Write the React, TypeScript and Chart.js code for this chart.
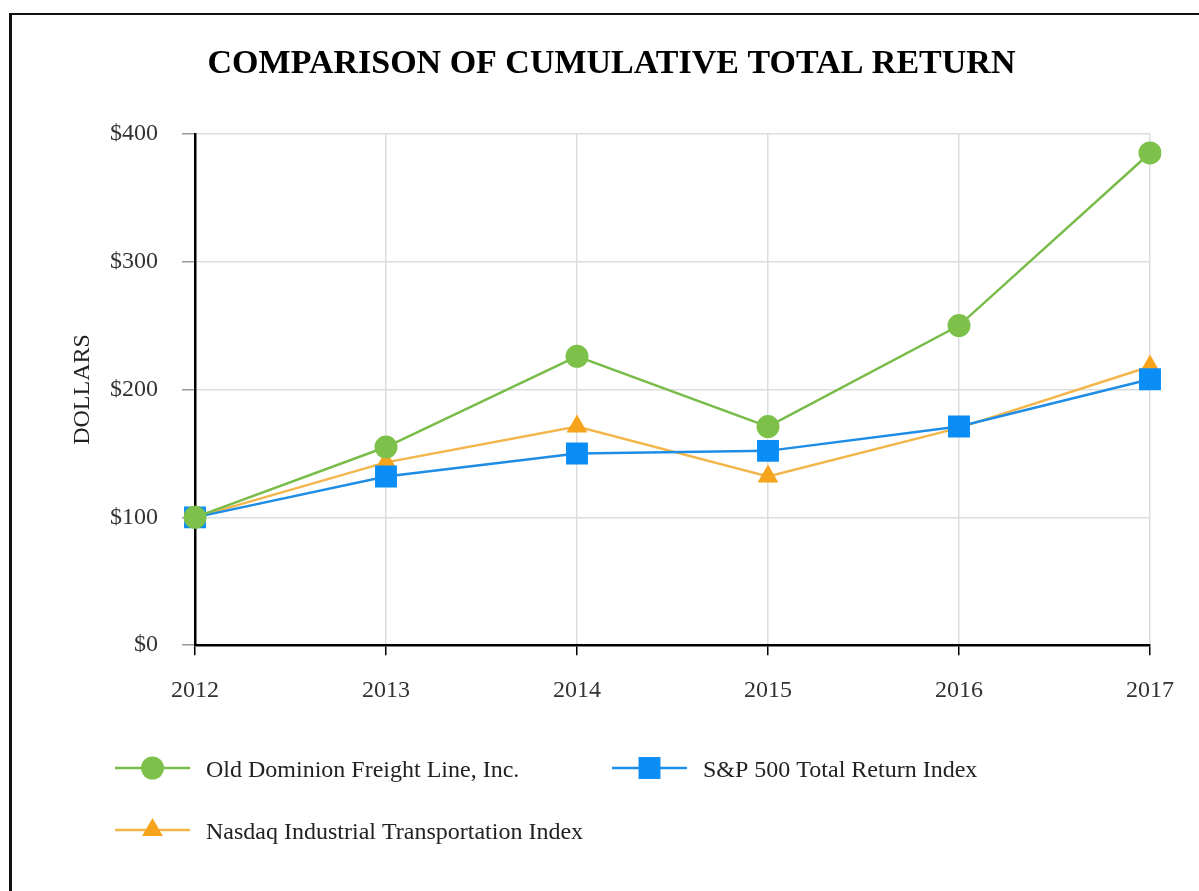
import React, { useEffect, useRef } from 'react';
import { Chart, registerables } from 'chart.js';

Chart.register(...registerables);

const years = ['2012', '2013', '2014', '2015', '2016', '2017'];
const odflValues = [100, 155, 226, 171, 250, 385];
const sp500Values = [100, 132, 150, 152, 171, 208];
const nasdaqValues = [100, 143, 171, 132, 170, 218];
const seriesNames = [
  'Old Dominion Freight Line, Inc.',
  'S&P 500 Total Return Index',
  'Nasdaq Industrial Transportation Index',
];
const chartTitle = 'COMPARISON OF CUMULATIVE TOTAL RETURN';
const yAxisTitle = 'DOLLARS';

const SERIF = '"Liberation Serif", "Times New Roman", serif';

function drawMarker(ctx: CanvasRenderingContext2D, style: string, x: number, y: number, r: number, color: string) {
  ctx.fillStyle = color;
  ctx.beginPath();
  if (style === 'circle') {
    ctx.arc(x, y, r, 0, Math.PI * 2);
  } else if (style === 'rect') {
    const s = Math.SQRT1_2 * r;
    ctx.rect(x - s, y - s, 2 * s, 2 * s);
  } else if (style === 'triangle') {
    let a = 0;
    ctx.moveTo(x + Math.sin(a) * r, y - Math.cos(a) * r);
    a += (2 * Math.PI) / 3;
    ctx.lineTo(x + Math.sin(a) * r, y - Math.cos(a) * r);
    a += (2 * Math.PI) / 3;
    ctx.lineTo(x + Math.sin(a) * r, y - Math.cos(a) * r);
    ctx.closePath();
  }
  ctx.fill();
}

const legendPlugin = {
  id: 'customLegend',
  afterDraw(chart: any) {
    const ctx = chart.ctx as CanvasRenderingContext2D;
    const slots = [
      { x: 115, y: 768 },
      { x: 612, y: 768 },
      { x: 115, y: 830 },
    ];
    chart.data.datasets.forEach((d: any, i: number) => {
      const { x, y } = slots[i];
      ctx.save();
      ctx.strokeStyle = d.borderColor;
      ctx.lineWidth = 2.5;
      ctx.beginPath();
      ctx.moveTo(x, y);
      ctx.lineTo(x + 75, y);
      ctx.stroke();
      drawMarker(ctx, d.pointStyle, x + 37.5, y, d.pointRadius, d.pointBackgroundColor);
      ctx.fillStyle = '#222';
      ctx.font = `24px ${SERIF}`;
      ctx.textBaseline = 'alphabetic';
      ctx.textAlign = 'left';
      ctx.fillText(d.label, x + 91, y + 9);
      ctx.restore();
    });
  },
};

export default function App() {
  const canvasRef = useRef<HTMLCanvasElement | null>(null);

  useEffect(() => {
    if (!canvasRef.current) return;
    const chart = new Chart(canvasRef.current, {
      type: 'line',
      data: {
        labels: years,
        datasets: [
          {
            label: seriesNames[0],
            data: odflValues,
            borderColor: '#79BC4A',
            backgroundColor: '#7DC14B',
            pointBackgroundColor: '#7DC14B',
            pointBorderWidth: 0,
            pointStyle: 'circle',
            pointRadius: 11.5,
            borderWidth: 2.5,
            tension: 0,
          },
          {
            label: seriesNames[1],
            data: sp500Values,
            borderColor: '#1E8DE6',
            backgroundColor: '#0A8EF5',
            pointBackgroundColor: '#0A8EF5',
            pointBorderWidth: 0,
            pointStyle: 'rect',
            pointRadius: 15.5,
            borderWidth: 2.5,
            tension: 0,
          },
          {
            label: seriesNames[2],
            data: nasdaqValues,
            borderColor: '#F3B64A',
            backgroundColor: '#F5A41C',
            pointBackgroundColor: '#F5A41C',
            pointBorderWidth: 0,
            pointStyle: 'triangle',
            pointRadius: 12,
            borderWidth: 2.5,
            tension: 0,
          },
        ],
      },
      options: {
        responsive: false,
        animation: false,
        devicePixelRatio: 1,
        layout: { padding: { left: 73, right: 49, top: 0, bottom: 165 } },
        plugins: {
          legend: { display: false },
          tooltip: { enabled: false },
          title: {
            display: true,
            text: chartTitle,
            color: '#000',
            font: { family: SERIF, size: 34, weight: 'bold' },
            padding: { top: 44, bottom: 49 },
          },
        },
        scales: {
          x: {
            type: 'category',
            offset: false,
            grid: {
              color: '#DDDDDD',
              tickColor: '#000',
              tickLength: 10,
              lineWidth: 1.5,
            },
            border: { color: '#000', width: 2.5 },
            ticks: {
              color: '#333',
              font: { family: SERIF, size: 24 },
              padding: 21,
              maxRotation: 0,
            },
          },
          y: {
            min: 0,
            max: 400,
            afterFit: (scale: any) => {
              scale.width = 122;
            },
            grid: {
              color: '#DDDDDD',
              tickColor: '#999',
              tickLength: 13,
              lineWidth: 1.5,
            },
            border: { color: '#000', width: 2.5 },
            ticks: {
              stepSize: 100,
              color: '#333',
              font: { family: SERIF, size: 24 },
              padding: 24,
              callback: (v: any) => '$' + v,
            },
            title: {
              display: true,
              text: yAxisTitle,
              color: '#222',
              font: { family: SERIF, size: 24 },
              padding: { top: -5, bottom: 0 },
            },
          },
        },
      },
      plugins: [legendPlugin],
    });
    return () => chart.destroy();
  }, []);

  return (
    <div style={{ position: 'fixed', left: 0, top: 0, width: 1199, height: 891, background: '#fff', overflow: 'hidden' }}>
      <canvas ref={canvasRef} width={1199} height={891} style={{ display: 'block', position: 'absolute', left: 0, top: 0 }} />
      <div
        style={{
          position: 'absolute',
          left: 9,
          top: 13,
          width: 1190,
          height: 878,
          borderLeft: '3px solid #111',
          borderTop: '2px solid #111',
          boxSizing: 'border-box',
          pointerEvents: 'none',
        }}
      />
    </div>
  );
}
